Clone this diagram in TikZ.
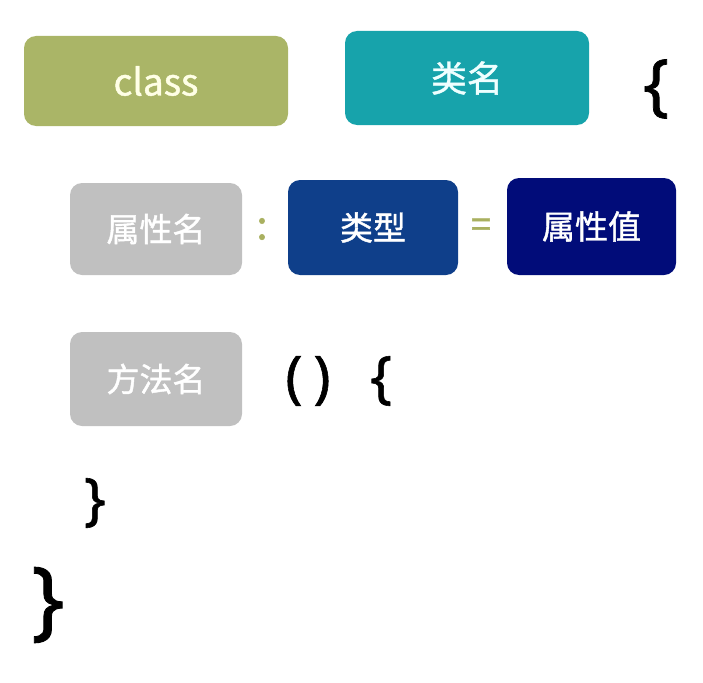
\documentclass[tikz,border=0pt]{standalone}
\usepackage{fontspec}
\setmainfont{Noto Sans CJK SC}
\newfontfamily\boxfont[FakeBold=1.2]{Noto Sans CJK SC}
\newfontfamily\bracefont[FakeBold=1]{Noto Sans}
\definecolor{olivebox}{HTML}{AAB567}
\definecolor{tealbox}{HTML}{17A3AB}
\definecolor{graybox}{HTML}{C0C0C0}
\definecolor{bluebox}{HTML}{0F3F8A}
\definecolor{navybox}{HTML}{010C79}
\definecolor{olivetext}{HTML}{A9B060}
\definecolor{lightyellow}{HTML}{FFFFE6}
\definecolor{lightcyan}{HTML}{EFFFFF}
\begin{document}
\begin{tikzpicture}[x=1pt,y=-1pt,
  box/.style={rectangle,rounded corners=12pt,inner sep=0pt,text=white,font=\boxfont\fontsize{33}{33}\selectfont},
  sym/.style={inner sep=0pt,font=\bracefont\fontsize{57}{57}\selectfont}]
\useasboundingbox (0,0) rectangle (703,682);
\node[box,fill=olivebox,minimum width=264pt,minimum height=90pt,text=lightyellow,font=\boxfont\fontsize{37}{37}\selectfont] (cls) at (156,81) {class};
\node[box,fill=tealbox,minimum width=244pt,minimum height=94pt,text=lightcyan,font=\boxfont\fontsize{36}{36}\selectfont] (cname) at (467,78) {类名};
\node[sym,font=\bracefont\fontsize{68}{68}\selectfont] (lb1) at (656,89) {\{};
\node[box,fill=graybox,minimum width=172pt,minimum height=92pt] (attr) at (156,229) {属性名};
\node[sym,text=olivetext,font=\boxfont\fontsize{40}{40}\selectfont] (colon) at (262,229) {:};
\node[sym,text=olivetext,font=\boxfont\fontsize{36}{36}\selectfont] (eq) at (481,228) {=};
\node[box,fill=bluebox,minimum width=170pt,minimum height=95pt] (type) at (373,227.5) {类型};
\node[box,fill=navybox,minimum width=169pt,minimum height=97pt] (val) at (591.5,226.5) {属性值};
\node[box,fill=graybox,minimum width=172pt,minimum height=94pt] (meth) at (156,379) {方法名};
\node[sym] (lp) at (294,381) {(};
\node[sym] (rp) at (322,381) {)};
\node[sym] (lb2) at (381,381) {\{};
\node[sym] (rb2) at (95,503) {\}};
\node[sym,font=\bracefont\fontsize{87}{87}\selectfont] (rb1) at (48,605) {\}};
\end{tikzpicture}
\end{document}
